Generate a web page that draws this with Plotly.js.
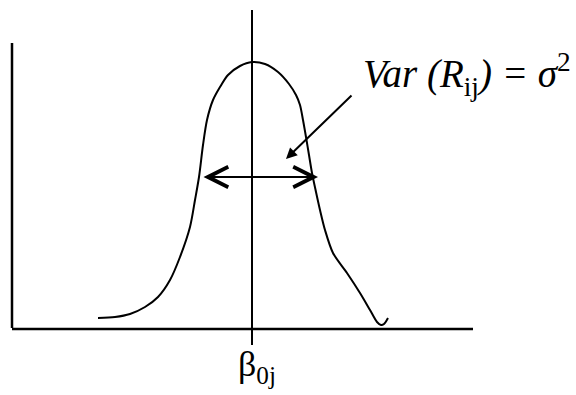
<!DOCTYPE html>
<html>
<head>
<meta charset="utf-8">
<script src="https://cdn.plot.ly/plotly-3.0.1.min.js"></script>
<style>
  html, body { margin: 0; padding: 0; background: #fff; }
  #plot { width: 576px; height: 395px; }
</style>
</head>
<body>
<div id="plot"></div>
<script>
// the density curve (x to the right, height upward)
var curveX = [98, 115, 130, 145, 158, 170, 180, 190, 195, 199, 203, 207, 213, 220, 228, 240, 252,
              265, 278, 289, 296, 300, 303, 306, 309, 312, 316, 320, 325, 333, 347, 360, 370, 377, 381, 384, 388];
var curveY = [77, 78, 81, 88, 98, 115, 138, 168, 195, 218, 250, 275, 295, 308, 320, 329, 333,
              331, 323, 311, 300, 290, 275, 258, 240, 222, 203, 185, 165, 142, 122, 102, 85, 73, 70, 71, 77];

// frame lines
var leftAxisX = [12, 12];
var leftAxisY = [352, 67];
var baseAxisX = [12, 473];
var baseAxisY = [66, 66];

// mean of the distribution (beta_0j)
var meanX = [252, 252];
var meanY = [385, 50];

// spread arrow (both ends) and pointer arrow
var spreadX = [202, 318];
var spreadY = 218;
var pointerFrom = [353, 301];
var pointerTo = [286, 236];

var labelVar = "<i>Var (R</i><sub>ij</sub><i>) = σ</i><sup>2</sup>";
var labelMean = "β<sub>0j</sub>";

var serif = "Times New Roman";

var traces = [
  { x: leftAxisX, y: leftAxisY, mode: "lines", line: { color: "black", width: 2.5 }, hoverinfo: "skip" },
  { x: baseAxisX, y: baseAxisY, mode: "lines", line: { color: "black", width: 2.5 }, hoverinfo: "skip" },
  { x: meanX, y: meanY, mode: "lines", line: { color: "black", width: 2 }, hoverinfo: "skip" },
  { x: curveX, y: curveY, mode: "lines", line: { color: "black", width: 2, shape: "spline", smoothing: 0.8 }, hoverinfo: "skip" }
];

var layout = {
  width: 576,
  height: 395,
  margin: { l: 0, r: 0, t: 0, b: 0 },
  paper_bgcolor: "white",
  plot_bgcolor: "white",
  showlegend: false,
  font: { family: serif, color: "black" },
  xaxis: { range: [0, 576], visible: false, fixedrange: true },
  yaxis: { range: [0, 395], visible: false, fixedrange: true },
  annotations: [
    {
      x: spreadX[1], y: spreadY, ax: spreadX[0], ay: spreadY,
      xref: "x", yref: "y", axref: "x", ayref: "y",
      text: "", showarrow: true,
      arrowside: "end+start", arrowhead: 5, startarrowhead: 5,
      arrowsize: 2, startarrowsize: 2, arrowwidth: 2, arrowcolor: "black"
    },
    {
      x: pointerTo[0], y: pointerTo[1], ax: pointerFrom[0], ay: pointerFrom[1],
      xref: "x", yref: "y", axref: "x", ayref: "y",
      text: "", showarrow: true,
      arrowhead: 2, arrowsize: 1.1, arrowwidth: 2, arrowcolor: "black"
    },
    {
      x: 361, y: 291, xref: "x", yref: "y",
      xanchor: "left", yanchor: "bottom",
      text: labelVar, showarrow: false,
      font: { family: serif, size: 39, color: "black" }
    },
    {
      x: 236, y: 4, xref: "x", yref: "y",
      xanchor: "left", yanchor: "bottom",
      text: labelMean, showarrow: false,
      font: { family: serif, size: 36, color: "black" }
    }
  ]
};

Plotly.newPlot("plot", traces, layout, { staticPlot: true, displayModeBar: false });
</script>
</body>
</html>
